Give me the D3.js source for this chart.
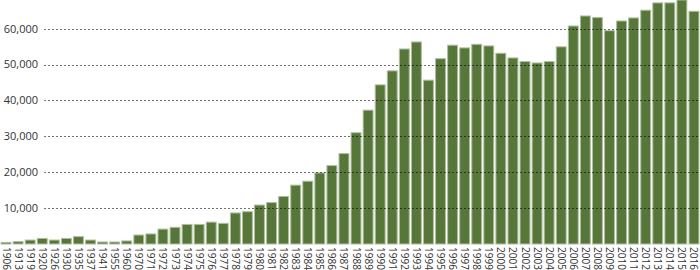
<!DOCTYPE html>
<html>
<head>
<meta charset="utf-8">
<script src="https://cdn.jsdelivr.net/npm/d3@7"></script>
<style>
    html, body { margin: 0; padding: 0; background: #fff; }
    #chart text { font-family: "Open Sans", sans-serif; fill: #333; }
</style>
</head>
<body>
<div id="chart"></div>
<script>
// data ================================================================
var years = ['1906','1913','1919','1920','1926','1930','1935','1937','1941','1955','1960',
    '1970','1971','1972','1973','1974','1975','1976','1977','1978','1979',
    '1980','1981','1982','1983','1984','1985','1986','1987','1988','1989',
    '1990','1991','1992','1993','1994','1995','1996','1997','1998','1999',
    '2000','2001','2002','2003','2004','2005','2006','2007','2008','2009',
    '2010','2011','2012','2013','2014','2015','2016'];

var values = [450, 650, 1100, 1550, 1100, 1550, 2050, 1100, 550, 550, 850,
    2500, 2800, 4150, 4650, 5450, 5450, 6100, 5750, 8650, 9000,
    10850, 11550, 13250, 16400, 17500, 19800, 21850, 25200, 31000, 37300,
    44350, 48250, 54350, 56300, 45650, 51650, 55400, 54650, 55650, 55200,
    53150, 51850, 50850, 50450, 50850, 54950, 60750, 63550, 63100, 59450,
    62150, 63000, 65150, 67200, 67200, 68000, 64850];

var yTicks = [10000, 20000, 30000, 40000, 50000, 60000];

(function(){
    var WIDTH   = 700,
        HEIGHT  = 270,
        BASE    = 244,
        GRID_X0 = 44;

    var svg = d3.select('#chart').append('svg')
        .attr('width', WIDTH)
        .attr('height', HEIGHT);

    var x = d3.scaleBand()
        .domain(years)
        .range([0, WIDTH])
        .paddingInner(0.18)
        .paddingOuter(0.09);

    var y = d3.scaleLinear()
        .domain([0, 68000])
        .range([BASE, 0]);

    var rows = years.map(function(d, i){ return { year: d, value: values[i] } });

    // bars
    svg.append('g').attr('class', 'bars')
        .selectAll('rect')
        .data(rows)
        .enter().append('rect')
        .attr('x', function(d){ return x(d.year) })
        .attr('y', function(d){ return y(d.value) })
        .attr('width', x.bandwidth())
        .attr('height', function(d){ return BASE - y(d.value) })
        .attr('fill', '#56763a')
        .attr('stroke', '#aebf9f')
        .attr('stroke-width', 1);

    // grid on top of the bars
    var grid = svg.append('g').attr('class', 'grid');
    grid.selectAll('line')
        .data(yTicks)
        .enter().append('line')
        .attr('x1', GRID_X0)
        .attr('x2', WIDTH)
        .attr('y1', function(d){ return Math.round(y(d)) + 0.5 })
        .attr('y2', function(d){ return Math.round(y(d)) + 0.5 })
        .attr('stroke', 'rgba(0,0,0,0.55)')
        .attr('stroke-dasharray', '2,2');

    // y labels
    svg.append('g').attr('class', 'y-labels')
        .selectAll('text')
        .data(yTicks)
        .enter().append('text')
        .attr('x', 38)
        .attr('y', function(d){ return y(d) })
        .attr('dy', '0.35em')
        .attr('text-anchor', 'end')
        .style('font-size', '11px')
        .text(d3.format(','));

    // x labels, rotated to read downwards
    svg.append('g').attr('class', 'x-labels')
        .selectAll('text')
        .data(years)
        .enter().append('text')
        .attr('transform', function(d){
            return 'translate(' + (x(d) + x.bandwidth() / 2) + ',' + (BASE + 3) + ') rotate(90)';
        })
        .attr('dy', '0.35em')
        .style('font-size', '10px')
        .text(function(d){ return d });
})();
</script>
</body>
</html>
